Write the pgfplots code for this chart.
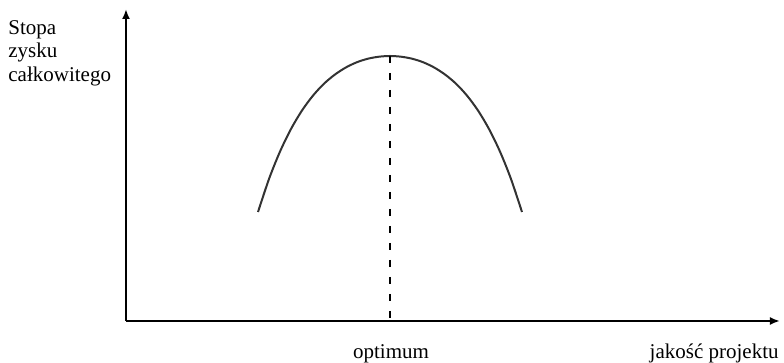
\documentclass[border=0pt]{standalone}
\usepackage{pgfplots}
\pgfplotsset{compat=1.18}
\usepackage{fontspec}
\setmainfont{Liberation Serif}
\usetikzlibrary{arrows.meta}

% Profit-rate curve over design quality (x: quality, y: total profit rate)
\pgfplotstableread{
x   y
132 109.0
143 142.0
154 169.4
165 192.0
176 210.5
187 225.4
198 237.3
209 246.5
220 253.6
231 258.8
242 262.3
253 264.3
264 265.0
275 264.3
286 262.3
297 258.8
308 253.6
319 246.5
330 237.3
341 225.4
352 210.5
363 192.0
374 169.4
385 142.0
396 109.0
}\profitcurve

\begin{document}
\begin{tikzpicture}
\useasboundingbox (-63pt,-21pt) rectangle (329pt,160.5pt);
\begin{axis}[
  at={(0,0)}, anchor=south west,
  scale only axis,
  width=327pt, height=156pt,
  xmin=0, xmax=654, ymin=0, ymax=312,
  axis lines=left,
  axis line style={line width=1.2pt, -{Latex[length=5pt,width=4pt]}},
  xtick=\empty, ytick=\empty,
  clip=false,
]
  \addplot[smooth, line width=1pt, color=black!80] table[x=x,y=y] {\profitcurve};
  \addplot[line width=1pt, dash pattern=on 3.5pt off 5pt, black] coordinates {(264,265) (264,0)};
\end{axis}
\begin{scope}[font=\fontsize{10.5}{11.5}\selectfont]
  \node[anchor=base west, inner sep=0pt] at (-59pt,143pt) {Stopa};
  \node[anchor=base west, inner sep=0pt] at (-59pt,131.5pt) {zysku};
  \node[anchor=base west, inner sep=0pt] at (-59pt,119.5pt) {całkowitego};
  \node[anchor=base, inner sep=0pt] at (132.5pt,-19pt) {optimum};
  \node[anchor=base east, inner sep=0pt] at (326.5pt,-19pt) {jakość projektu};
\end{scope}
\end{tikzpicture}
\end{document}
